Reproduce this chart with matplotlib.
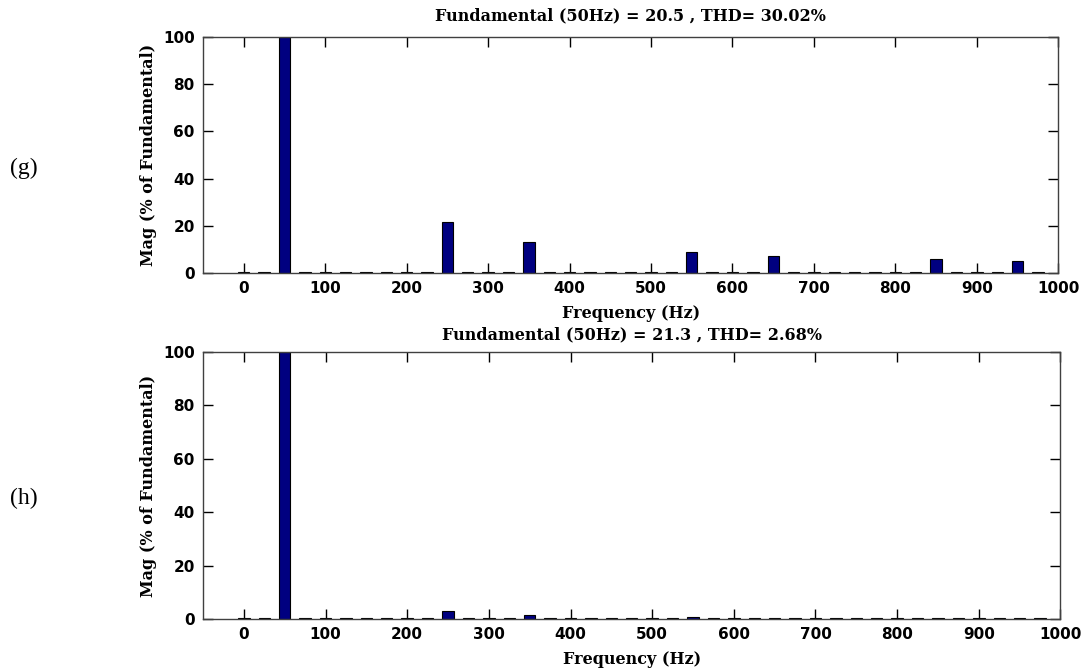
import numpy as np
import matplotlib
matplotlib.use('Agg')
import matplotlib.pyplot as plt

# harmonic spectrum, 25 Hz bins from 0 to 975 Hz
freqs = np.arange(0, 1000, 25)

# (g) values in % of fundamental
mag_g = np.full(len(freqs), 0.3)
peaks_g = {50: 100.0, 250: 21.5, 350: 13.0, 550: 9.0, 650: 7.0, 850: 6.0, 950: 5.3}

# (h) values in % of fundamental
mag_h = np.full(len(freqs), 0.3)
peaks_h = {50: 100.0, 250: 2.8, 350: 1.3, 550: 0.8}

for f, v in peaks_g.items():
    mag_g[freqs == f] = v
for f, v in peaks_h.items():
    mag_h[freqs == f] = v

titles = ['Fundamental (50Hz) = 20.5 , THD= 30.02%',
          'Fundamental (50Hz) = 21.3 , THD= 2.68%']
panel_labels = ['(g)', '(h)']
xticks = np.arange(0, 1001, 100)
yticks = np.arange(0, 101, 20)

lab_font = dict(family='DejaVu Serif', fontweight='bold', fontsize=11.5)
tick_font = dict(family='DejaVu Sans', fontweight='bold', fontsize=11)


def draw_spectrum(ax, mags, title, tpad):
    ax.bar(freqs, mags, width=14, color='#000080', edgecolor='black', linewidth=0.8)
    ax.set_xlim(-50, 1000)
    ax.set_ylim(0, 100)
    ax.set_xticks(xticks)
    ax.set_yticks(yticks)
    ax.set_xticklabels([str(t) for t in xticks], **tick_font)
    ax.set_yticklabels([str(t) for t in yticks], **tick_font)
    ax.tick_params(direction='in', length=7, width=1, top=True, right=True, pad=6)
    for s in ax.spines.values():
        s.set_linewidth(1.0)
        s.set_color('#404040')
    ax.set_title(title, pad=tpad, **lab_font)
    ax.set_xlabel('Frequency (Hz)', labelpad=6, **lab_font)
    ax.set_ylabel('Mag (% of Fundamental)', labelpad=4, **lab_font)


fig = plt.figure(figsize=(10.84, 6.68), dpi=100)
ax1 = fig.add_axes([0.1873, 0.5913, 0.789, 0.3533])
ax2 = fig.add_axes([0.1873, 0.0734, 0.791, 0.3997])

draw_spectrum(ax1, mag_g, titles[0], 12)
draw_spectrum(ax2, mag_h, titles[1], 9)

fig.text(0.009, 1 - 168 / 668, panel_labels[0], family='Liberation Serif', fontsize=17, va='center')
fig.text(0.009, 1 - 498 / 668, panel_labels[1], family='Liberation Serif', fontsize=17, va='center')

fig.savefig('out.png', dpi=100)
